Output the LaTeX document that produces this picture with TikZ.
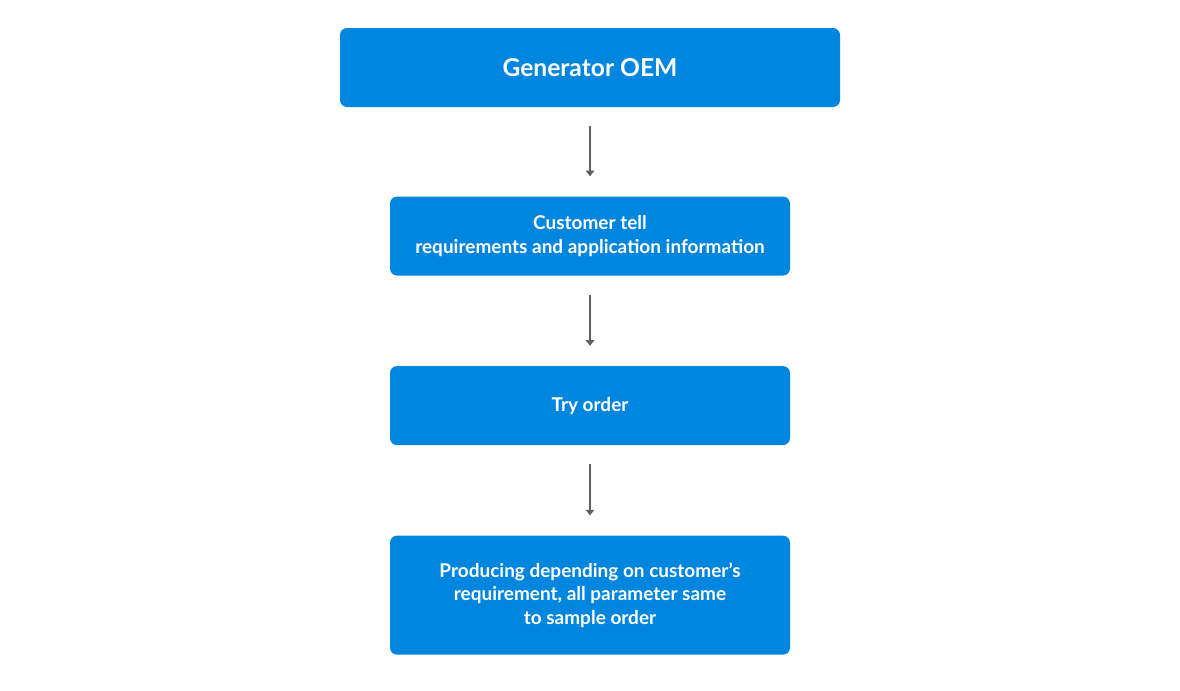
\documentclass[tikz,border=0pt]{standalone}
\usepackage{fontspec}
\setmainfont{Lato}
\usetikzlibrary{positioning,arrows.meta}
\definecolor{oemblue}{RGB}{0,134,223}
\definecolor{flowgray}{RGB}{96,96,96}

\begin{document}
\begin{tikzpicture}[
  node distance=2.225cm,
  stepbox/.style={rectangle, rounded corners=5pt, fill=oemblue, text=white, minimum width=10cm, minimum height=1.975cm, align=center, font=\fontsize{13.5}{17}\selectfont\bfseries, inner sep=0pt},
  headbox/.style={stepbox, minimum width=12.5cm, font=\fontsize{17.5}{20}\selectfont\bfseries},
  flow/.style={-{Triangle[width=6pt,length=4pt]}, line width=1.3pt, draw=flowgray, shorten <=0.475cm, shorten >=0.5cm},
]
  \useasboundingbox (0,0) rectangle (29.5,-17.25);

  % Boxes
  \node[headbox] (oem) at (14.75,-1.6875) {Generator OEM};
  \node[stepbox, below=of oem] (tell) {Customer tell\\requirements and application information};
  \node[stepbox, below=2.25cm of tell] (try) {Try order};
  \node[stepbox, below=2.25cm of try, minimum height=2.975cm] (prod) {Producing depending on customer’s\\requirement, all parameter same\\to sample order};

  % Arrows
  \draw[flow] (oem.south) -- (tell.north);
  \draw[flow] (tell.south) -- (try.north);
  \draw[flow] (try.south) -- (prod.north);
\end{tikzpicture}
\end{document}
